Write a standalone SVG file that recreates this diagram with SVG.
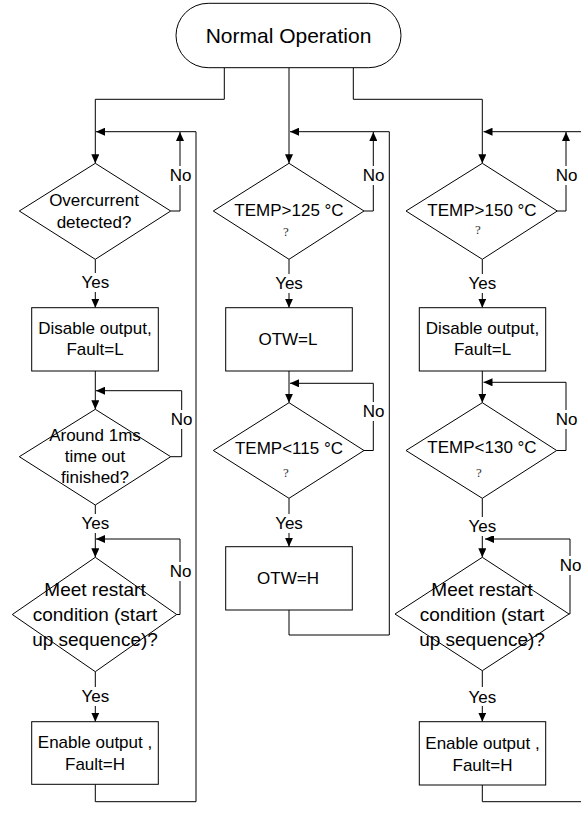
<svg xmlns="http://www.w3.org/2000/svg" width="581" height="813" viewBox="0 0 581 813">
<style>
.s{fill:#fff;stroke:#000;stroke-width:1}
.c{fill:none;stroke:#000;stroke-width:1}
.t{font-family:"Liberation Sans",Arial,sans-serif;font-size:17px;fill:#000;text-anchor:middle}
.big{font-size:19px}
.q{font-family:"Liberation Serif","Times New Roman",serif;font-size:13px;fill:#333;text-anchor:middle}
.bg{fill:#fff;stroke:none}
</style>
<defs>
<marker id="ah" markerUnits="userSpaceOnUse" markerWidth="9" markerHeight="8" viewBox="0 0 9 8" refX="9" refY="4" orient="auto">
<path d="M0,0 L9,4 L0,8 z" fill="#000"/>
</marker>
</defs>
<rect width="581" height="813" fill="#fff"/>
<g id="connectors">
<path class="c" d="M224.3,67.7 V99.3 H95.3 V163.3" marker-end="url(#ah)"/>
<path class="c" d="M289,67.7 V163.3" marker-end="url(#ah)"/>
<path class="c" d="M353.3,67.7 V99.3 H482.3 V163.3" marker-end="url(#ah)"/>
<path class="c" d="M95.3,784.3 V801.7 H196 V131.7 H96" marker-end="url(#ah)"/>
<path class="c" d="M170.7,211 H180 V132" marker-end="url(#ah)"/>
<path class="c" d="M95.3,259.3 V307.7" marker-end="url(#ah)"/>
<path class="c" d="M95.3,371 V409.3" marker-end="url(#ah)"/>
<path class="c" d="M170.7,456.7 H181.7 V390.7 H96" marker-end="url(#ah)"/>
<path class="c" d="M95.3,505 V557.3" marker-end="url(#ah)"/>
<path class="c" d="M176.7,614.5 H180 V539 H96" marker-end="url(#ah)"/>
<path class="c" d="M95.3,671.7 V721.7" marker-end="url(#ah)"/>
<path class="c" d="M289,610 V635 H389.3 V131.7 H290" marker-end="url(#ah)"/>
<path class="c" d="M364,211 H373.3 V132" marker-end="url(#ah)"/>
<path class="c" d="M289,259.3 V307.7" marker-end="url(#ah)"/>
<path class="c" d="M289,371 V402.7" marker-end="url(#ah)"/>
<path class="c" d="M364,450.5 H373.3 V383.3 H290" marker-end="url(#ah)"/>
<path class="c" d="M289,498.3 V546.7" marker-end="url(#ah)"/>
<path class="c" d="M482.3,785 V801.7 H581"/>
<path class="c" d="M581,131.7 H483.5" marker-end="url(#ah)"/>
<path class="c" d="M557.3,211 H566 V132" marker-end="url(#ah)"/>
<path class="c" d="M482.3,259.3 V307.7" marker-end="url(#ah)"/>
<path class="c" d="M482.3,371 V402.7" marker-end="url(#ah)"/>
<path class="c" d="M556.7,450.5 H566 V382.3 H483.5" marker-end="url(#ah)"/>
<path class="c" d="M482.3,498.3 V557.3" marker-end="url(#ah)"/>
<path class="c" d="M569,614 H570 V539 H485" marker-end="url(#ah)"/>
<path class="c" d="M482.3,670.7 V721.7" marker-end="url(#ah)"/>
</g>
<g id="labels">
<rect class="bg" x="81" y="273" width="29" height="19"/><text class="t" x="95.3" y="288">Yes</text>
<rect class="bg" x="81" y="514" width="29" height="19"/><text class="t" x="95.3" y="529">Yes</text>
<rect class="bg" x="81" y="687" width="29" height="19"/><text class="t" x="95.3" y="702">Yes</text>
<rect class="bg" x="169" y="166" width="23" height="19"/><text class="t" x="180.5" y="181">No</text>
<rect class="bg" x="170" y="410" width="23" height="19"/><text class="t" x="181.5" y="425">No</text>
<rect class="bg" x="169" y="562" width="23" height="19"/><text class="t" x="180.5" y="577">No</text>
<rect class="bg" x="275" y="274" width="29" height="19"/><text class="t" x="289" y="289">Yes</text>
<rect class="bg" x="275" y="514" width="29" height="19"/><text class="t" x="289" y="529">Yes</text>
<rect class="bg" x="362" y="166" width="23" height="19"/><text class="t" x="373.5" y="181">No</text>
<rect class="bg" x="362" y="402" width="23" height="19"/><text class="t" x="373.5" y="417">No</text>
<rect class="bg" x="468" y="274" width="29" height="19"/><text class="t" x="482.3" y="289">Yes</text>
<rect class="bg" x="468" y="517" width="29" height="19"/><text class="t" x="482.3" y="532">Yes</text>
<rect class="bg" x="468" y="687" width="29" height="19"/><text class="t" x="482.3" y="702.5">Yes</text>
<rect class="bg" x="555" y="166" width="23" height="19"/><text class="t" x="566.5" y="181">No</text>
<rect class="bg" x="555" y="410" width="23" height="19"/><text class="t" x="566.5" y="425">No</text>
<rect class="bg" x="559" y="556" width="22" height="19"/><text class="t" x="570.5" y="571">No</text>
</g>
<g id="start">
<rect class="s" x="176" y="3.3" width="225" height="64.4" rx="32.2"/>
<text class="t" x="288.5" y="42.7" style="font-size:21px">Normal Operation</text>
</g>
<g id="overcurrent">
<polygon class="s" points="95.3,163.3 170.7,211 95.3,259.3 19.3,211"/>
<text class="t" x="94" y="206">Overcurrent</text>
<text class="t" x="94" y="227.7">detected?</text>
</g>
<g id="disable1">
<rect class="s" x="31.7" y="307.7" width="126.6" height="63.3"/>
<text class="t" x="95" y="334">Disable output,</text>
<text class="t" x="95" y="355">Fault=L</text>
</g>
<g id="timeout">
<polygon class="s" points="95.3,409.3 170.7,456.7 95.3,505 19.3,456.7"/>
<text class="t" x="95" y="440.7">Around  1ms</text>
<text class="t" x="95" y="461.7">time out</text>
<text class="t" x="95" y="483.3">finished?</text>
</g>
<g id="restart1">
<polygon class="s" points="95.3,557.3 176.7,614.5 95.3,671.7 12.3,614.5"/>
<text class="t big" x="95" y="595.7">Meet restart</text>
<text class="t big" x="95" y="620.7">condition (start</text>
<text class="t big" x="95" y="645.7">up sequence)?</text>
</g>
<g id="enable1">
<rect class="s" x="31.7" y="721.7" width="126.6" height="62.6"/>
<text class="t" x="95" y="748.3">Enable output ,</text>
<text class="t" x="95" y="770">Fault=H</text>
</g>
<g id="temp125">
<polygon class="s" points="289,163.3 364,211 289,259.3 213.3,211"/>
<text class="t" x="289" y="216">TEMP&gt;125 °C</text>
<text class="q" x="286" y="236">?</text>
</g>
<g id="otwl">
<rect class="s" x="225.7" y="307.7" width="126.6" height="63.3"/>
<text class="t" x="288" y="345">OTW=L</text>
</g>
<g id="temp115">
<polygon class="s" points="289,402.7 364,450.5 289,498.3 213.3,450.5"/>
<text class="t" x="289" y="454.3">TEMP&lt;115 °C</text>
<text class="q" x="286" y="476.7">?</text>
</g>
<g id="otwh">
<rect class="s" x="225.7" y="546.7" width="126.6" height="63.3"/>
<text class="t" x="288" y="584">OTW=H</text>
</g>
<g id="temp150">
<polygon class="s" points="482.3,163.3 557.3,211 482.3,259.3 406,211"/>
<text class="t" x="482" y="216">TEMP&gt;150 °C</text>
<text class="q" x="478" y="234">?</text>
</g>
<g id="disable3">
<rect class="s" x="419.3" y="307.7" width="126.4" height="63.3"/>
<text class="t" x="482.5" y="334">Disable output,</text>
<text class="t" x="482.5" y="355">Fault=L</text>
</g>
<g id="temp130">
<polygon class="s" points="482.3,402.7 556.7,450.5 482.3,498.3 406,450.5"/>
<text class="t" x="482" y="453.3">TEMP&lt;130 °C</text>
<text class="q" x="479" y="476.7">?</text>
</g>
<g id="restart3">
<polygon class="s" points="482.3,557.3 569,614 482.3,670.7 395,614"/>
<text class="t big" x="482" y="595.7">Meet restart</text>
<text class="t big" x="482" y="620.7">condition (start</text>
<text class="t big" x="482" y="645.7">up sequence)?</text>
</g>
<g id="enable3">
<rect class="s" x="419.3" y="721.7" width="126.4" height="63.3"/>
<text class="t" x="482.5" y="749.3">Enable output ,</text>
<text class="t" x="482.5" y="770.7">Fault=H</text>
</g>
</svg>
